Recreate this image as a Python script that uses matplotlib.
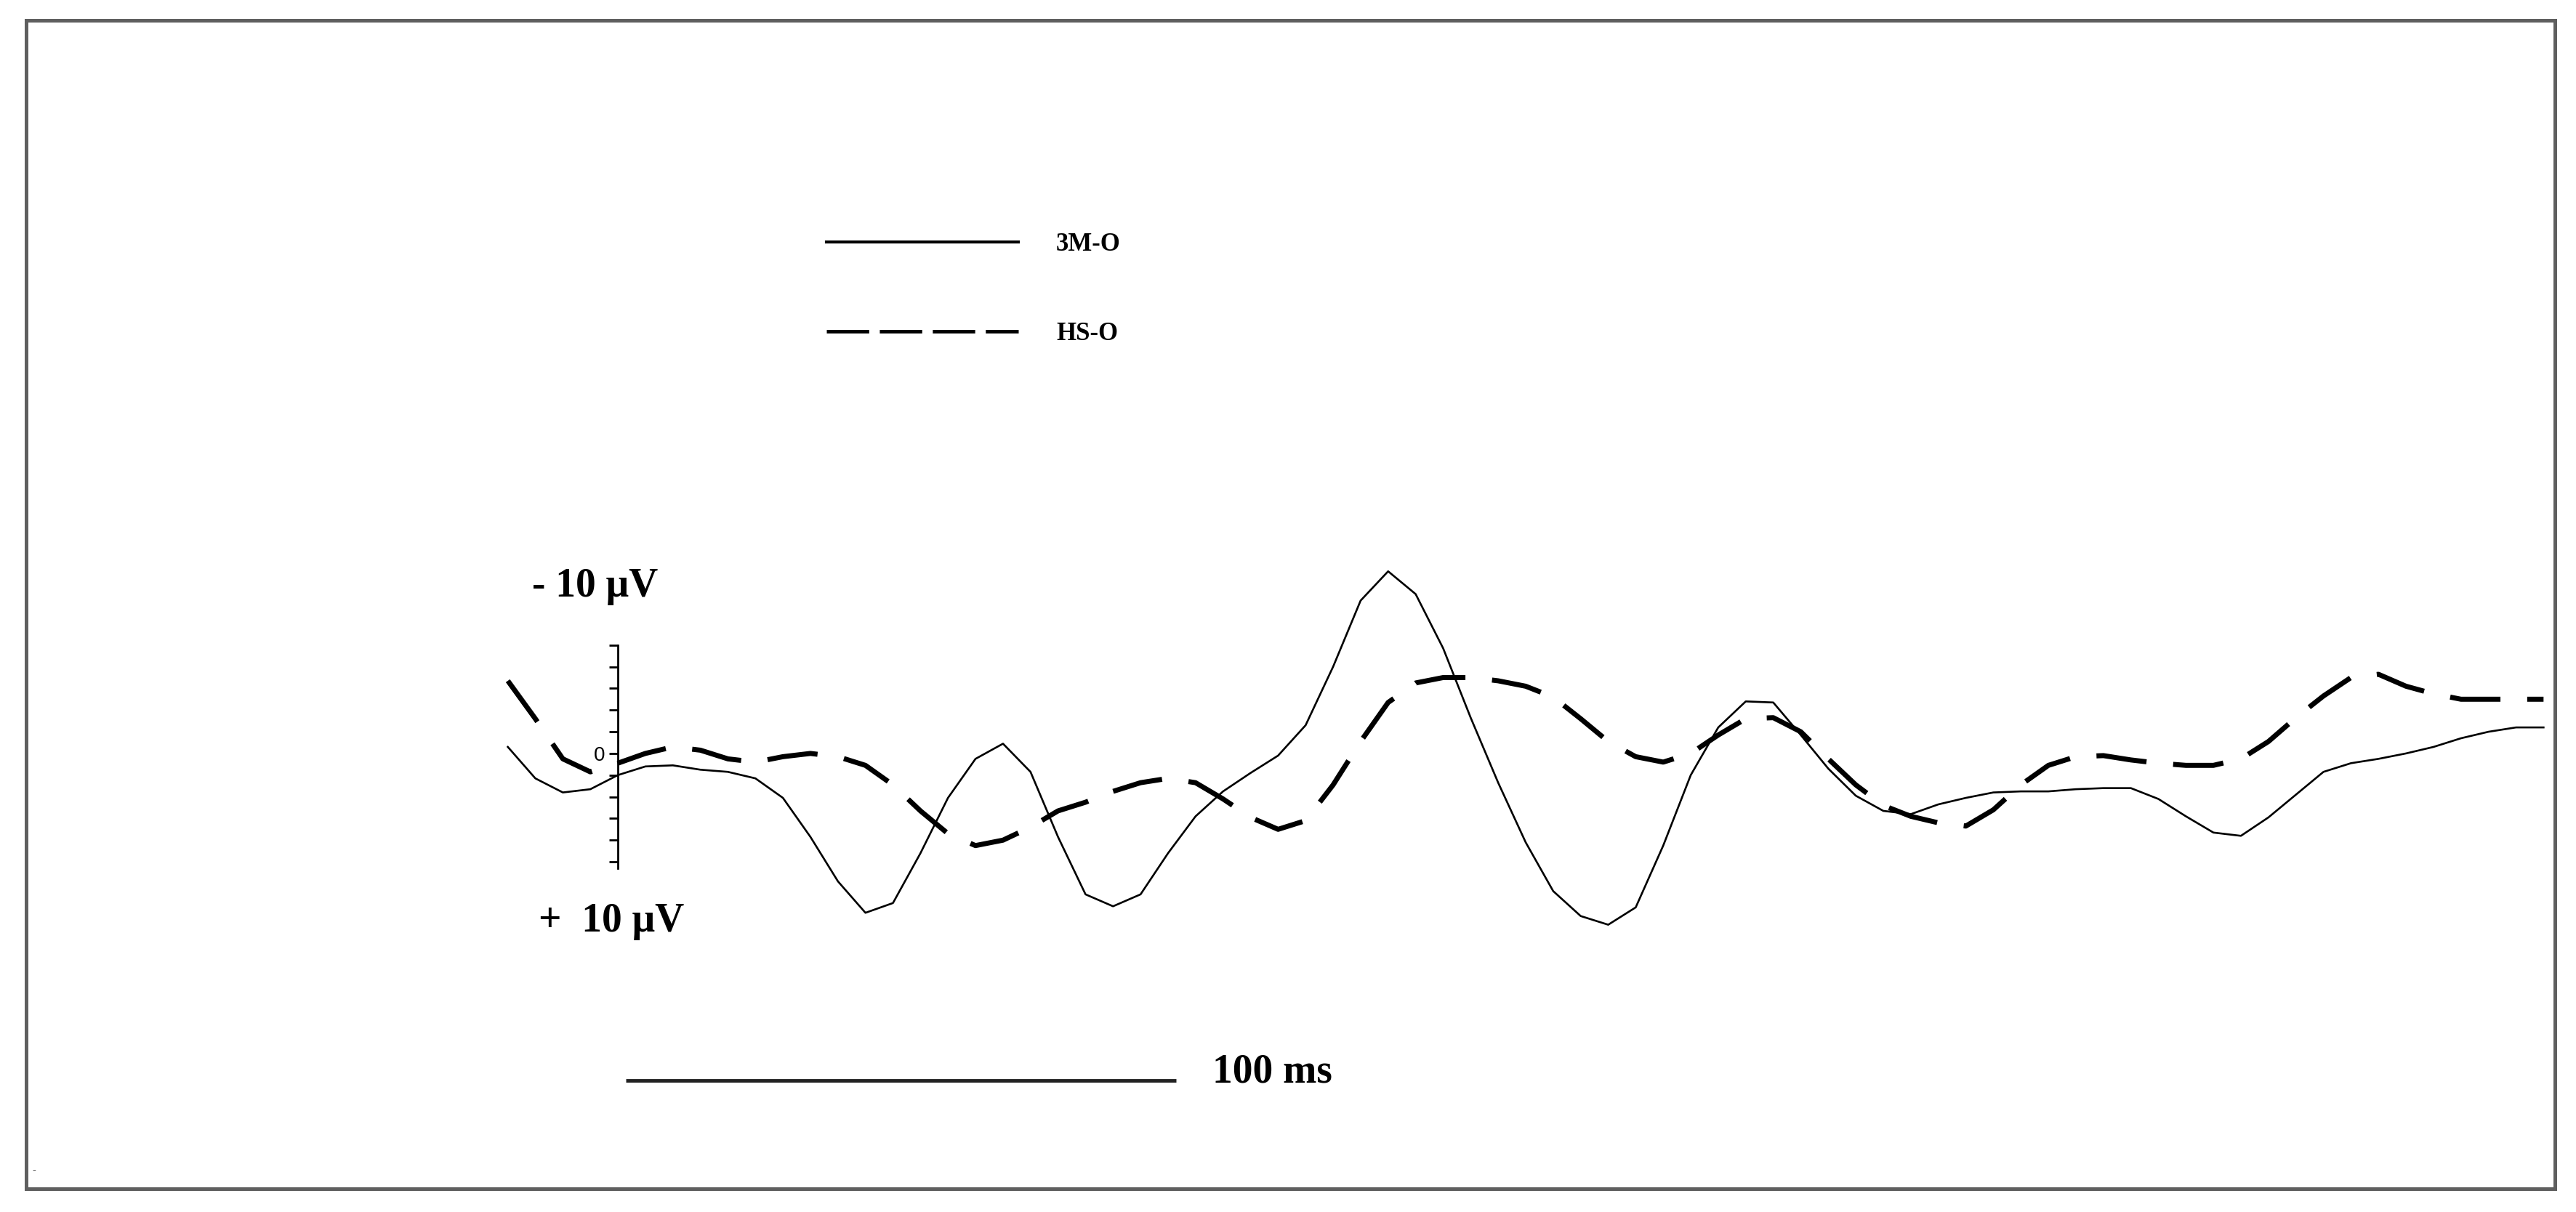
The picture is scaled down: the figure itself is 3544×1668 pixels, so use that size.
import matplotlib
matplotlib.use("Agg")
import matplotlib.pyplot as plt
from matplotlib.lines import Line2D
from matplotlib.patches import Rectangle
import numpy as np

# time axis (ms), sampled every 5 ms
times = np.arange(-20, 351, 5)

# 3M-O (solid), in microvolts, negative up
v_3mo = [-0.6, 2.3, 3.6, 3.3, 2.0, 1.2, 1.1, 1.5, 1.7, 2.3,
         4.1, 7.7, 11.8, 14.7, 13.8, 9.2, 4.1, 0.5, -0.9, 1.7,
         7.7, 13.0, 14.1, 13.0, 9.2, 5.8, 3.5, 1.8, 0.2, -2.6,
         -8.0, -14.1, -16.8, -14.7, -9.7, -3.3, 2.7, 8.2, 12.7, 15.0,
         15.8, 14.2, 8.5, 2.0, -2.4, -4.8, -4.7, -1.7, 1.4, 3.9,
         5.3, 5.6, 4.7, 4.1, 3.6, 3.5, 3.5, 3.3, 3.2, 3.2,
         4.2, 5.8, 7.3, 7.6, 5.9, 3.8, 1.7, 0.9, 0.5, 0.0,
         -0.6, -1.4, -2.0, -2.4, -2.4]

# HS-O (dashed)
v_hso = [-6.7, -3.2, 0.5, 1.7, 0.9, 0.0, -0.6, -0.3, 0.5, 0.8,
         0.3, 0.0, 0.3, 1.1, 2.9, 5.3, 7.4, 8.5, 8.0, 6.8,
         5.3, 4.5, 3.5, 2.7, 2.3, 2.7, 4.2, 5.9, 7.0, 6.2,
         2.9, -1.1, -4.7, -6.5, -7.0, -7.0, -6.7, -6.2, -5.2, -3.2,
         -1.1, 0.3, 0.8, 0.0, -1.7, -3.2, -3.3, -2.0, 0.5, 2.9,
         4.8, 5.8, 6.4, 6.7, 5.2, 2.9, 1.1, 0.3, 0.2, 0.6,
         0.9, 1.1, 1.1, 0.5, -1.1, -3.3, -5.3, -7.0, -7.3, -6.2,
         -5.5, -5.0, -5.0, -5.0, -5.0]

labels = ["3M-O", "HS-O"]
scale_ms = 100
scale_uv = 10

serif = "Liberation Serif"

fig = plt.figure(figsize=(35.44, 16.68), dpi=100)
ax = fig.add_axes([0, 0, 1, 1])
ax.set_xlim(-112.3, 355.9)
ax.set_ylim(42.3, -69.5)  # negative up

dash_style = (10, 5.3)
ax.plot(times, v_3mo, color="black", lw=1.9, label=labels[0])
ax.plot(times, v_hso, color="black", lw=5, dashes=dash_style, label=labels[1])

# vertical amplitude scale at t = 0
for s in ["top", "right", "bottom"]:
    ax.spines[s].set_visible(False)
ax.spines["left"].set_position(("data", 0))
ax.spines["left"].set_bounds(-scale_uv, scale_uv + 0.6)
ax.spines["left"].set_linewidth(2)
ticks = list(range(-scale_uv, scale_uv + 1, 2))
ax.set_yticks(ticks)
ax.set_yticklabels(["0" if t == 0 else "" for t in ticks],
                   fontsize=20, family="Liberation Sans")
ax.tick_params(axis="y", direction="out", length=8.6, width=2, pad=4)
ax.xaxis.set_visible(False)

ax.text(-4.2, -15.4, "- 10 μV", fontsize=40, fontweight="bold",
        family=serif, ha="center", va="center")
ax.text(-1.2, 15.5, "+  10 μV", fontsize=40, fontweight="bold",
        family=serif, ha="center", va="center")

# time scale bar
ax.plot([1.5, 1.5 + scale_ms], [30.2, 30.2], color="#222222", lw=3.5,
        solid_capstyle="butt")
ax.text(108, 29.4, "100 ms", fontsize=40, fontweight="bold",
        family=serif, ha="left", va="center")

# legend
handles = [Line2D([], [], color="black", lw=3),
           Line2D([], [], color="black", lw=3.5, dashes=(12, 3))]
ax.legend(handles, labels, loc="upper left",
          bbox_to_anchor=(1137 / 3544, 1 - 320 / 1668),
          bbox_transform=fig.transFigure, frameon=False,
          prop={"family": serif, "weight": "bold", "size": 25},
          handlelength=7.6, handletextpad=1.5, labelspacing=2.6,
          borderpad=0, borderaxespad=0)

# outer frame
fig.add_artist(Rectangle((36 / 3544, 1 - 1636 / 1668), 3479 / 3544, 1608 / 1668,
                         transform=fig.transFigure, fill=False,
                         edgecolor="#5f5f5f", lw=3.6))
fig.text(47 / 3544, 1 - 1612 / 1668, "-", fontsize=10, color="#555555",
         ha="center", va="center")

fig.savefig("out.png", dpi=100, facecolor="white")
